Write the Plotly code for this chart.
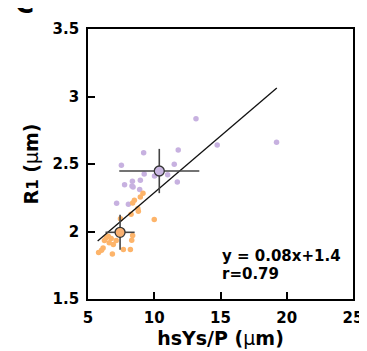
import plotly.graph_objects as go

purple_x = [13.15, 19.23, 14.75, 11.81, 9.20, 7.52, 11.51, 11.01, 11.74, 9.24, 10.02,
            8.35, 7.76, 8.32, 8.40, 8.95, 8.90, 7.16, 8.05]
purple_y = [2.836, 2.662, 2.641, 2.603, 2.583, 2.491, 2.498, 2.421, 2.366, 2.426, 2.411,
            2.373, 2.346, 2.337, 2.330, 2.380, 2.312, 2.209, 2.202]

orange_x = [9.15, 8.95, 8.50, 8.37, 8.76, 8.80, 8.25, 10.0, 7.45, 6.53, 6.38, 6.75,
            6.24, 6.60, 6.91, 7.13, 8.37, 8.30, 6.14, 6.02, 5.80, 7.67, 8.20, 6.84, 7.30]
orange_y = [2.283, 2.255, 2.232, 2.211, 2.170, 2.150, 2.128, 2.088, 2.095, 1.965, 1.953, 1.948,
            1.934, 1.917, 1.903, 1.934, 1.970, 1.936, 1.878, 1.862, 1.845, 1.867, 1.867, 1.833, 1.985]

# Group means with SD
mean_purple = (10.38, 2.448)
err_purple = (3.02, 0.164)
mean_orange = (7.42, 1.994)
err_orange = (1.10, 0.13)

# Regression line
fit_slope = 0.0838
fit_intercept = 1.449
fit_x = [5.73, 19.25]
fit_y = [fit_slope * v + fit_intercept for v in fit_x]

fit_label = "y = 0.08x+1.4"
r_label = "r=0.79"

PURPLE = "#c7b1e0"
ORANGE = "#fdb46a"
FONT = "DejaVu Sans, Arial, sans-serif"

fig = go.Figure()
fig.add_trace(go.Scatter(x=purple_x, y=purple_y, mode="markers",
                         marker=dict(size=5.5, color=PURPLE), showlegend=False))
fig.add_trace(go.Scatter(x=orange_x, y=orange_y, mode="markers",
                         marker=dict(size=5.5, color=ORANGE), showlegend=False))
fig.add_trace(go.Scatter(x=fit_x, y=fit_y, mode="lines",
                         line=dict(color="#111111", width=1.3), showlegend=False))
for (mx, my), (ex, ey), col in [(mean_purple, err_purple, "#c9b6e2"),
                                (mean_orange, err_orange, "#f9b070")]:
    fig.add_trace(go.Scatter(
        x=[mx], y=[my], mode="markers",
        marker=dict(size=10, color=col, line=dict(color="#333333", width=1.3)),
        error_x=dict(type="constant", value=ex, color="#444444", thickness=1.6, width=0),
        error_y=dict(type="constant", value=ey, color="#444444", thickness=1.6, width=0),
        showlegend=False))

axis_common = dict(showline=True, linecolor="black", linewidth=1.8, mirror=True,
                   ticks="inside", ticklen=7, tickwidth=1.6, tickcolor="black",
                   showgrid=False, zeroline=False,
                   tickfont=dict(family=FONT, size=15, color="black", weight="bold"))

fig.update_xaxes(range=[5, 25], dtick=5, tick0=5, ticklabelstandoff=4,
                 title=dict(text="<b>hsYs/P (</b>μ<b>m)</b>", standoff=6,
                            font=dict(family=FONT, size=19, color="black")),
                 **axis_common)
fig.update_yaxes(range=[1.5, 3.5], dtick=0.5, tick0=1.5, ticklabelstandoff=4,
                 title=dict(text="<b>R<span style='font-size:15px'>1</span> (</b>μ<b>m)</b>", standoff=9,
                            font=dict(family=FONT, size=19, color="black")),
                 **axis_common)

fig.add_annotation(xref="paper", yref="paper", x=0.50, y=0.159, xanchor="left", yanchor="middle",
                   text="<b>" + fit_label + "</b>", showarrow=False, borderpad=0,
                   font=dict(family=FONT, size=15, color="black"))
fig.add_annotation(xref="paper", yref="paper", x=0.50, y=0.094, xanchor="left", yanchor="middle",
                   text="<b>" + r_label + "</b>", showarrow=False, borderpad=0,
                   font=dict(family=FONT, size=15, color="black"))
fig.add_annotation(xref="paper", yref="paper", x=-0.24, y=1.034, xanchor="center", yanchor="bottom",
                   text="<b>C</b>", showarrow=False, borderpad=0,
                   font=dict(family=FONT, size=26, color="black"))

fig.update_layout(width=367, height=351, margin=dict(l=80, r=12, t=14, b=60),
                  plot_bgcolor="white", paper_bgcolor="white")
fig.write_html("out.html")
